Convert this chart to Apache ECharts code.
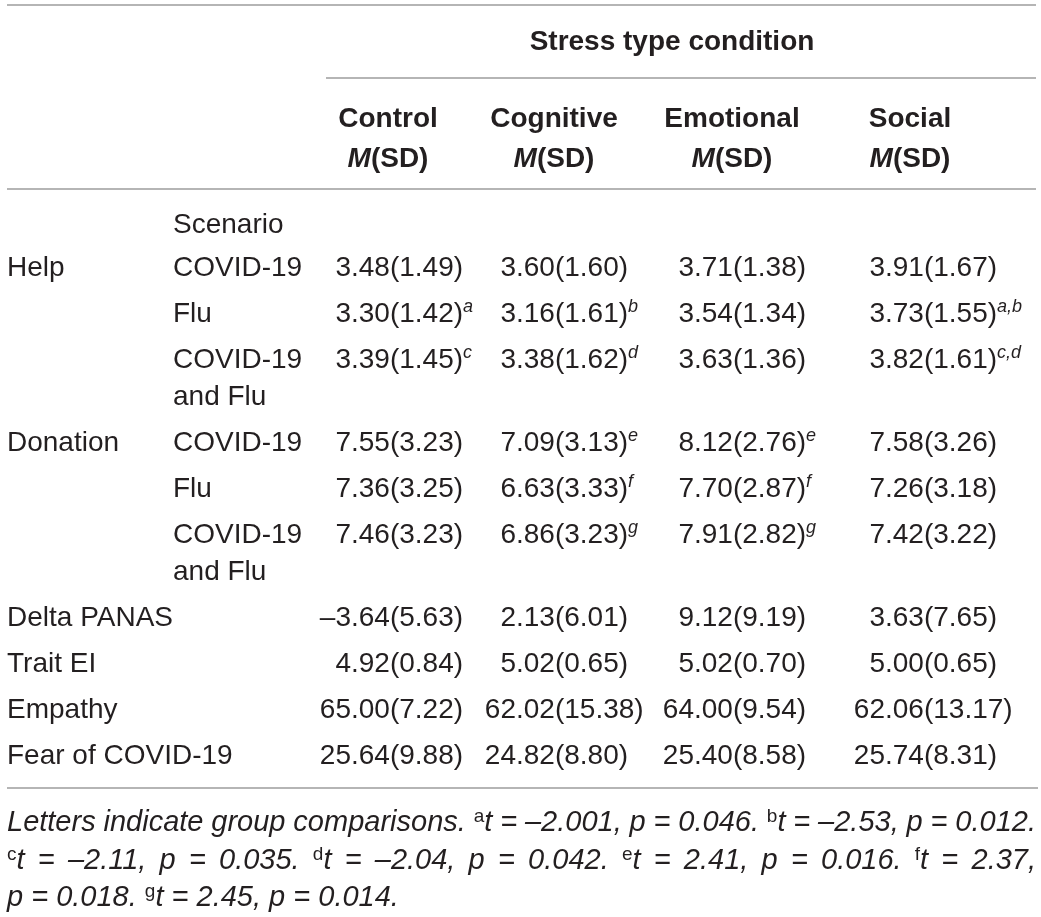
<!DOCTYPE html>
<html><head><meta charset="utf-8">
<script src="https://cdn.jsdelivr.net/npm/echarts@6/dist/echarts.min.js"></script>
<style>html,body{margin:0;padding:0;background:#fff}#c{width:1041px;height:917px}</style>
</head><body><div id="c"></div>
<script>
// ---------- DATA ----------
const rowLabels = ['Help', '', '', 'Donation', '', '', 'Delta PANAS', 'Trait EI', 'Empathy', 'Fear of COVID-19'];
const scenarios = ['COVID-19', 'Flu', 'COVID-19\nand Flu', 'COVID-19', 'Flu', 'COVID-19\nand Flu', '', '', '', ''];
const conditions = ['Control', 'Cognitive', 'Emotional', 'Social'];
const controlM   = [3.48, 3.30, 3.39, 7.55, 7.36, 7.46, -3.64, 4.92, 65.00, 25.64];
const controlSD  = [1.49, 1.42, 1.45, 3.23, 3.25, 3.23, 5.63, 0.84, 7.22, 9.88];
const controlSup = ['', 'a', 'c', '', '', '', '', '', '', ''];
const cognitiveM   = [3.60, 3.16, 3.38, 7.09, 6.63, 6.86, 2.13, 5.02, 62.02, 24.82];
const cognitiveSD  = [1.60, 1.61, 1.62, 3.13, 3.33, 3.23, 6.01, 0.65, 15.38, 8.80];
const cognitiveSup = ['', 'b', 'd', 'e', 'f', 'g', '', '', '', ''];
const emotionalM   = [3.71, 3.54, 3.63, 8.12, 7.70, 7.91, 9.12, 5.02, 64.00, 25.40];
const emotionalSD  = [1.38, 1.34, 1.36, 2.76, 2.87, 2.82, 9.19, 0.70, 9.54, 8.58];
const emotionalSup = ['', '', '', 'e', 'f', 'g', '', '', '', ''];
const socialM   = [3.91, 3.73, 3.82, 7.58, 7.26, 7.42, 3.63, 5.00, 62.06, 25.74];
const socialSD  = [1.67, 1.55, 1.61, 3.26, 3.18, 3.22, 7.65, 0.65, 13.17, 8.31];
const socialSup = ['', 'a,b', 'c,d', '', '', '', '', '', '', ''];
const titleText = 'Stress type condition';
const subHeader = 'M(SD)';
const scenarioHeader = 'Scenario';
const footnoteLines = [
  'Letters indicate group comparisons. ^at = –2.001, p = 0.046. ^bt = –2.53, p = 0.012.',
  '^ct = –2.11, p = 0.035. ^dt = –2.04, p = 0.042. ^et = 2.41, p = 0.016. ^ft = 2.37,',
  'p = 0.018. ^gt = 2.45, p = 0.014.'
];

// ---------- LAYOUT ----------
const W = 1041, H = 917;
const FONT = '"Liberation Sans", Arial, Helvetica, sans-serif';
const INK = '#231f20';
const BODY = 28, SUP = 18, FOOT = 29, FOOT_SUP = 19;
const X_LEFT = 7, X_SCEN = 173;
const DEC_X = [351, 516, 694, 885];
const HEAD_CX = [388, 554, 732, 910];
const TITLE_CX = 672, TITLE_Y = 42, HEAD1_Y = 119, HEAD2_Y = 159, SCEN_HEAD_Y = 225;
const ROW0_Y = 268, ROW_PITCH = 46, EXTRA_LINE = 37;
const FOOT_Y = [823, 861, 898];
const FOOT_X = 7, FOOT_W = 1029;
const RULES = [[7, 1036, 5], [326, 1036, 78], [7, 1036, 189], [7, 1038, 788]];

const colM = [controlM, cognitiveM, emotionalM, socialM];
const colSD = [controlSD, cognitiveSD, emotionalSD, socialSD];
const colSup = [controlSup, cognitiveSup, emotionalSup, socialSup];

const rowY = [];
(function () {
  let y = ROW0_Y;
  scenarios.forEach(s => {
    rowY.push(y);
    const n = s ? s.split('\n').length : 1;
    y += ROW_PITCH + (n - 1) * EXTRA_LINE;
  });
})();

const baseRich = {
  n: { fontSize: BODY, lineHeight: 32, fontFamily: FONT, color: INK, opacity: 1 },
  s: { fontSize: SUP, lineHeight: 22, fontStyle: 'italic', verticalAlign: 'top', fontFamily: FONT, color: INK, opacity: 1 },
  b: { fontSize: BODY, lineHeight: 32, fontWeight: 'bold', fontFamily: FONT, color: INK, opacity: 1 },
  bi: { fontSize: BODY, lineHeight: 32, fontWeight: 'bold', fontStyle: 'italic', fontFamily: FONT, color: INK, opacity: 1 }
};

function textSeries(points, align, extraRich) {
  return {
    type: 'scatter', symbolSize: 0, silent: true, animation: false, z: 5,
    itemStyle: { opacity: 1 },
    emphasis: { disabled: true },
    data: points,
    label: {
      show: true, position: [0, 0], align: align, verticalAlign: 'middle',
      color: INK, opacity: 1, fontFamily: FONT, fontSize: BODY,
      formatter: p => p.data.txt,
      rich: Object.assign({}, baseRich, extraRich || {})
    }
  };
}

function fmtMean(m) { return (m < 0 ? '–' : '') + Math.abs(m).toFixed(2); }

const series = [];

// title
series.push(textSeries([{ value: [TITLE_CX, TITLE_Y], txt: '{b|' + titleText + '}' }], 'center'));
// condition headers
series.push(textSeries(conditions.map((c, j) => ({ value: [HEAD_CX[j], HEAD1_Y], txt: '{b|' + c + '}' })), 'center'));
series.push(textSeries(conditions.map((c, j) => ({ value: [HEAD_CX[j], HEAD2_Y], txt: '{bi|' + subHeader[0] + '}{b|' + subHeader.slice(1) + '}' })), 'center'));
// scenario header
series.push(textSeries([{ value: [X_SCEN, SCEN_HEAD_Y], txt: '{n|' + scenarioHeader + '}' }], 'left'));
// row labels
series.push(textSeries(rowLabels.map((r, i) => r ? { value: [X_LEFT, rowY[i]], txt: '{n|' + r + '}' } : null).filter(Boolean), 'left'));
// scenario labels
const scenPts = [];
scenarios.forEach((s, i) => {
  if (!s) return;
  s.split('\n').forEach((line, k) => scenPts.push({ value: [X_SCEN, rowY[i] + k * EXTRA_LINE], txt: '{n|' + line + '}' }));
});
series.push(textSeries(scenPts, 'left'));
// values, decimal aligned
conditions.forEach((c, j) => {
  const intPts = [], restPts = [];
  colM[j].forEach((m, i) => {
    const str = fmtMean(m);
    const dot = str.indexOf('.');
    const sup = colSup[j][i];
    intPts.push({ value: [DEC_X[j], rowY[i]], txt: '{n|' + str.slice(0, dot) + '}' });
    restPts.push({ value: [DEC_X[j], rowY[i]], txt: '{n|' + str.slice(dot) + '(' + colSD[j][i].toFixed(2) + ')}' + (sup ? '{s|' + sup + '}' : '') });
  });
  series.push(textSeries(intPts, 'right'));
  series.push(textSeries(restPts, 'left'));
});

// footnote with justification
const mctx = document.createElement('canvas').getContext('2d');
function tw(text, font) { mctx.font = font; return mctx.measureText(text).width; }
const itFont = 'italic ' + FOOT + 'px ' + FONT;
const supFont = FOOT_SUP + 'px ' + FONT;
const footRich = {
  it: { fontSize: FOOT, lineHeight: 32, fontStyle: 'italic', fontFamily: FONT, color: INK, opacity: 1 },
  fs: { fontSize: FOOT_SUP, lineHeight: 22, verticalAlign: 'top', fontFamily: FONT, color: INK, opacity: 1 }
};
const footPts = footnoteLines.map((line, li) => {
  const words = line.split(' ');
  let natural = 0;
  const toks = words.map(w => {
    let t = '';
    if (w[0] === '^') { t += '{fs|' + w[1] + '}'; natural += tw(w[1], supFont); w = w.slice(2); }
    t += '{it|' + w + '}'; natural += tw(w, itFont);
    return t;
  });
  const justify = li < footnoteLines.length - 1;
  let gap = justify ? (FOOT_W - natural) / (words.length - 1) : tw(' ', itFont);
  gap = Math.max(gap, FOOT * 0.14);
  footRich['g' + li] = { width: gap, fontSize: FOOT, lineHeight: 32, fontFamily: FONT };
  return { value: [FOOT_X, FOOT_Y[li]], txt: toks.join('{g' + li + '| }') };
});
series.push(textSeries(footPts, 'left', footRich));

// rules
series.push({
  type: 'scatter', symbolSize: 0, silent: true, animation: false, data: [],
  markLine: {
    silent: true, animation: false, symbol: ['none', 'none'], label: { show: false },
    lineStyle: { color: '#9c9c9c', width: 1.5, type: 'solid', opacity: 1 },
    data: RULES.map(r => [{ coord: [r[0], r[2]] }, { coord: [r[1], r[2]] }])
  }
});

const chart = echarts.init(document.getElementById('c'), null, { renderer: 'canvas' });
chart.setOption({
  backgroundColor: '#ffffff',
  animation: false,
  grid: { left: 0, right: 0, top: 0, bottom: 0 },
  xAxis: { type: 'value', min: 0, max: W, show: false },
  yAxis: { type: 'value', min: 0, max: H, inverse: true, show: false },
  series: series
});
</script>
</body></html>
